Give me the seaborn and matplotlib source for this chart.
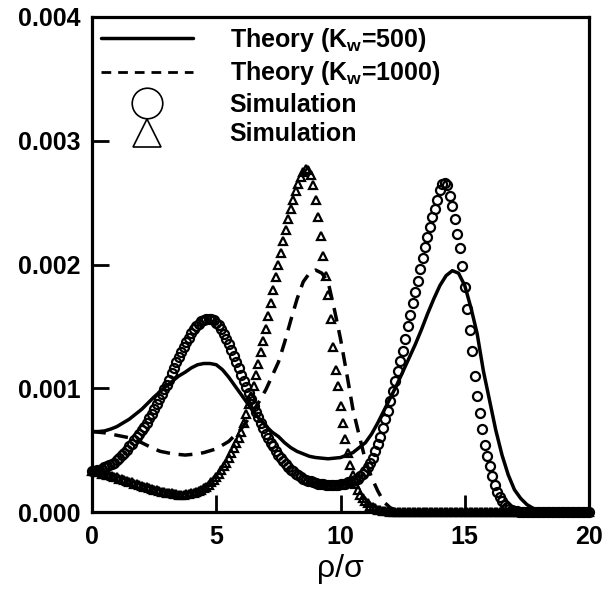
import numpy as np
import matplotlib
matplotlib.use("Agg")
import matplotlib.pyplot as plt
from matplotlib.lines import Line2D
from matplotlib.ticker import FormatStrFormatter, MultipleLocator
import seaborn as sns

# Radial density profiles (values in units of 1e-3)
theory_x = [i * 0.25 for i in range(81)]
theory_kw500 = [
    0.65, 0.65, 0.655, 0.67, 0.69, 0.72, 0.75, 0.79, 0.83, 0.88,
    0.93, 0.975, 1.02, 1.06, 1.10, 1.13, 1.165, 1.19, 1.20, 1.20,
    1.19, 1.15, 1.09, 1.02, 0.95, 0.88, 0.81, 0.75, 0.695, 0.645,
    0.61, 0.56, 0.52, 0.49, 0.47, 0.45, 0.44, 0.435, 0.43, 0.435,
    0.44, 0.46, 0.48, 0.52, 0.56, 0.63, 0.72, 0.82, 0.92, 1.02,
    1.13, 1.24, 1.35, 1.47, 1.60, 1.72, 1.83, 1.91, 1.95, 1.93,
    1.83, 1.65, 1.44, 1.14, 0.90, 0.66, 0.46, 0.30, 0.18, 0.11,
    0.06, 0.03, 0.01, 0.005, 0.0, 0.0, 0.0, 0.0, 0.0, 0.0,
    0.0,
]
theory_kw1000 = [
    0.65, 0.645, 0.64, 0.63, 0.62, 0.61, 0.60, 0.58, 0.56, 0.535,
    0.51, 0.49, 0.48, 0.47, 0.465, 0.46, 0.465, 0.47, 0.48, 0.495,
    0.51, 0.54, 0.57, 0.62, 0.67, 0.74, 0.82, 0.90, 0.99, 1.10,
    1.21, 1.37, 1.55, 1.72, 1.86, 1.93, 1.955, 1.93, 1.86, 1.64,
    1.40, 1.12, 0.83, 0.62, 0.42, 0.28, 0.17, 0.08, 0.035, 0.012,
    0.004, 0.0, 0.0, 0.0, 0.0, 0.0, 0.0, 0.0, 0.0, 0.0,
    0.0, 0.0, 0.0, 0.0, 0.0, 0.0, 0.0, 0.0, 0.0, 0.0,
    0.0, 0.0, 0.0, 0.0, 0.0, 0.0, 0.0, 0.0, 0.0, 0.0,
    0.0,
]

sim_x = [round(i * 0.1, 1) for i in range(201)]
sim_circles = [
    0.33, 0.33, 0.34, 0.34, 0.35, 0.36, 0.37, 0.38, 0.39, 0.40,
    0.42, 0.44, 0.46, 0.48, 0.50, 0.53, 0.55, 0.58, 0.61, 0.63,
    0.66, 0.69, 0.72, 0.76, 0.79, 0.83, 0.87, 0.91, 0.95, 0.99,
    1.03, 1.07, 1.12, 1.16, 1.21, 1.25, 1.29, 1.33, 1.37, 1.41,
    1.45, 1.48, 1.50, 1.52, 1.54, 1.55, 1.56, 1.56, 1.56, 1.55,
    1.53, 1.51, 1.48, 1.44, 1.40, 1.36, 1.31, 1.26, 1.21, 1.16,
    1.11, 1.06, 1.01, 0.96, 0.91, 0.86, 0.81, 0.77, 0.72, 0.68,
    0.63, 0.60, 0.56, 0.53, 0.49, 0.46, 0.44, 0.41, 0.39, 0.36,
    0.34, 0.33, 0.31, 0.30, 0.28, 0.27, 0.26, 0.25, 0.25, 0.24,
    0.235, 0.23, 0.23, 0.225, 0.22, 0.22, 0.22, 0.22, 0.22, 0.22,
    0.225, 0.23, 0.23, 0.24, 0.245, 0.25, 0.26, 0.27, 0.29, 0.31,
    0.33, 0.36, 0.40, 0.44, 0.49, 0.55, 0.61, 0.68, 0.75, 0.82,
    0.90, 0.98, 1.06, 1.14, 1.22, 1.30, 1.40, 1.50, 1.59, 1.69,
    1.78, 1.87, 1.96, 2.05, 2.14, 2.22, 2.30, 2.38, 2.45, 2.52,
    2.60, 2.65, 2.66, 2.64, 2.55, 2.47, 2.37, 2.25, 2.13, 1.99,
    1.82, 1.64, 1.47, 1.30, 1.10, 0.94, 0.80, 0.67, 0.54, 0.45,
    0.37, 0.29, 0.22, 0.165, 0.12, 0.085, 0.06, 0.04, 0.025, 0.015,
    0.01, 0.006, 0.004, 0.002, 0.0, 0.0, 0.0, 0.0, 0.0, 0.0,
    0.0, 0.0, 0.0, 0.0, 0.0, 0.0, 0.0, 0.0, 0.0, 0.0,
    0.0, 0.0, 0.0, 0.0, 0.0, 0.0, 0.0, 0.0, 0.0, 0.0,
    0.0,
]
sim_triangles = [
    0.33, 0.33, 0.32, 0.32, 0.31, 0.31, 0.30, 0.30, 0.29, 0.285,
    0.28, 0.27, 0.265, 0.26, 0.25, 0.245, 0.24, 0.23, 0.225, 0.215,
    0.21, 0.205, 0.20, 0.19, 0.185, 0.18, 0.175, 0.17, 0.165, 0.16,
    0.155, 0.15, 0.15, 0.145, 0.145, 0.14, 0.14, 0.14, 0.145, 0.145,
    0.15, 0.155, 0.16, 0.17, 0.18, 0.19, 0.205, 0.22, 0.24, 0.26,
    0.28, 0.31, 0.34, 0.37, 0.40, 0.44, 0.48, 0.52, 0.56, 0.60,
    0.65, 0.72, 0.79, 0.87, 0.94, 1.02, 1.11, 1.20, 1.29, 1.38,
    1.48, 1.58, 1.69, 1.79, 1.90, 2.00, 2.09, 2.19, 2.28, 2.37,
    2.45, 2.52, 2.59, 2.65, 2.71, 2.75, 2.77, 2.76, 2.72, 2.64,
    2.52, 2.38, 2.23, 2.07, 1.91, 1.75, 1.56, 1.33, 1.15, 1.02,
    0.86, 0.72, 0.59, 0.48, 0.38, 0.30, 0.23, 0.18, 0.14, 0.11,
    0.09, 0.07, 0.05, 0.04, 0.03, 0.02, 0.015, 0.01, 0.008, 0.005,
    0.003, 0.002, 0.001, 0.0, 0.0, 0.0, 0.0, 0.0, 0.0, 0.0,
    0.0, 0.0, 0.0, 0.0, 0.0, 0.0, 0.0, 0.0, 0.0, 0.0,
    0.0, 0.0, 0.0, 0.0, 0.0, 0.0, 0.0, 0.0, 0.0, 0.0,
    0.0, 0.0, 0.0, 0.0, 0.0, 0.0, 0.0, 0.0, 0.0, 0.0,
    0.0, 0.0, 0.0, 0.0, 0.0, 0.0, 0.0, 0.0, 0.0, 0.0,
    0.0, 0.0, 0.0, 0.0, 0.0, 0.0, 0.0, 0.0, 0.0, 0.0,
    0.0, 0.0, 0.0, 0.0, 0.0, 0.0, 0.0, 0.0, 0.0, 0.0,
    0.0, 0.0, 0.0, 0.0, 0.0, 0.0, 0.0, 0.0, 0.0, 0.0,
    0.0,
]

legend_labels = ["Theory (K$_\\mathrm{w}$=500)", "Theory (K$_\\mathrm{w}$=1000)",
                 "Simulation", "Simulation"]

SCALE = 1e-3

sns.set_theme(style="ticks")
plt.rcParams["font.family"] = ["Liberation Sans", "DejaVu Sans"]
plt.rcParams["mathtext.fontset"] = "custom"
plt.rcParams["mathtext.rm"] = "Liberation Sans:bold"
plt.rcParams["mathtext.it"] = "Liberation Sans:bold"
plt.rcParams["mathtext.bf"] = "Liberation Sans:bold"
for key in ("text.color", "axes.labelcolor", "xtick.color", "ytick.color",
            "axes.edgecolor"):
    plt.rcParams[key] = "black"

fig = plt.figure(figsize=(6.13, 5.95), dpi=100)
ax = fig.add_axes([92 / 613, 1 - 512 / 595, 497 / 613, 495 / 595])

ink = "black"

sns.lineplot(x=theory_x, y=np.array(theory_kw500) * SCALE, ax=ax, color=ink,
             lw=2.5, linestyle="-", sort=False, estimator=None)
sns.lineplot(x=theory_x, y=np.array(theory_kw1000) * SCALE, ax=ax, color=ink,
             lw=2.5, linestyle=(0, (4, 2.5)), sort=False, estimator=None)
sns.lineplot(x=sim_x, y=np.array(sim_circles) * SCALE, ax=ax, color=ink,
             linestyle="", marker="o", markersize=6.5, markerfacecolor="none",
             markeredgecolor=ink, markeredgewidth=1.6, sort=False,
             estimator=None, clip_on=False)
sns.lineplot(x=sim_x, y=np.array(sim_triangles) * SCALE, ax=ax, color=ink,
             linestyle="", marker="^", markersize=6.0, markerfacecolor="none",
             markeredgecolor=ink, markeredgewidth=1.6, sort=False,
             estimator=None, clip_on=False)

ax.set_xlim(0, 20)
ax.set_ylim(0, 0.004)
ax.xaxis.set_major_locator(MultipleLocator(5))
ax.yaxis.set_major_locator(MultipleLocator(0.001))
ax.yaxis.set_major_formatter(FormatStrFormatter("%.3f"))
ax.tick_params(direction="in", length=12, width=2, color=ink,
               labelcolor=ink, labelsize=18, top=False, right=False)
ax.tick_params(axis="x", pad=9)
ax.tick_params(axis="y", pad=8)
for lab in ax.get_xticklabels() + ax.get_yticklabels():
    lab.set_fontweight("bold")
for sp in ax.spines.values():
    sp.set_visible(True)
    sp.set_linewidth(2.3)
    sp.set_color(ink)

ax.set_xlabel("\u03c1/\u03c3", fontsize=23, labelpad=4, color=ink)
ax.set_ylabel("")

handles = [
    Line2D([], [], color=ink, lw=2.5, linestyle="-"),
    Line2D([], [], color=ink, lw=2.0, linestyle=(0, (3.5, 2.5))),
    Line2D([], [], color=ink, linestyle="", marker="o", markersize=22,
           markerfacecolor="none", markeredgewidth=1.2),
    Line2D([], [], color=ink, linestyle="", marker="^", markersize=20,
           markerfacecolor="none", markeredgewidth=1.2),
]
leg = ax.legend(handles, legend_labels, loc="upper left",
                bbox_to_anchor=(0.0, 1.0), frameon=False, handlelength=3.7,
                handletextpad=1.45, labelspacing=0.22, borderaxespad=0.0,
                borderpad=0.35, prop={"size": 18, "weight": "bold"},
                labelcolor=ink)

fig.savefig("out.png", dpi=100)
